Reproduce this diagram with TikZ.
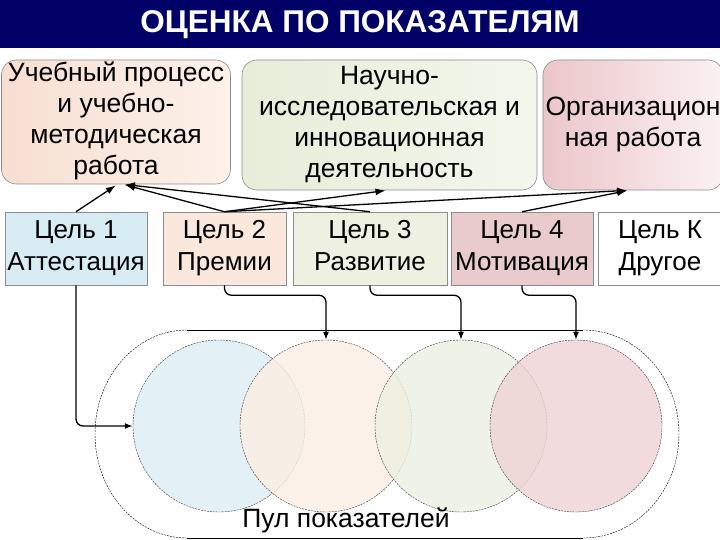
\documentclass[tikz,border=0pt]{standalone}
\usepackage{fontspec}
\setmainfont{Liberation Sans}
\usetikzlibrary{arrows.meta}
\definecolor{navy}{RGB}{0,0,102}
\definecolor{peachL}{HTML}{F7DFD1}
\definecolor{peachR}{HTML}{FCF1EA}
\definecolor{greenL}{HTML}{E8EDD9}
\definecolor{greenR}{HTML}{F3F6EC}
\definecolor{pinkL}{HTML}{EBC6CA}
\definecolor{pinkR}{HTML}{FBF1F2}
\definecolor{gblue}{HTML}{D8ECF3}
\definecolor{gpeach}{HTML}{FBE8DD}
\definecolor{ggreen}{HTML}{EEF1E2}
\definecolor{gpink}{HTML}{EACBCD}
\definecolor{cblue}{HTML}{DCEDF4}
\definecolor{cpeach}{HTML}{FCEEE3}
\definecolor{cgreen}{HTML}{ECF0E1}
\definecolor{cpink}{HTML}{EED2D5}
\definecolor{edgegray}{HTML}{8C8C8C}
\begin{document}
\begin{tikzpicture}[x=1pt,y=-1pt,
  topbox/.style={draw=edgegray, line width=0.6pt, rounded corners=15pt, inner sep=0pt,
    align=center, font=\fontsize{26.5}{31}\selectfont},
  goalbox/.style={draw=edgegray, line width=0.5pt, inner sep=0pt, minimum height=73pt,
    align=center, font=\fontsize{26}{32}\selectfont},
  circ/.style={circle, draw=black!80, line width=0.4pt, dash pattern=on 2pt off 1pt,
    minimum size=172pt, inner sep=0pt, fill opacity=0.8},
  arr/.style={-{Latex[length=10pt,width=7pt]}, line width=1.3pt, shorten >=2pt},
  elbow/.style={-{Latex[length=8pt,width=6pt]}, line width=1.3pt, rounded corners=7pt}
]
\useasboundingbox (0,0) rectangle (720,540);
\fill[white] (0,0) rectangle (720,540);
% title
\fill[navy] (0,0) rectangle (720,48);
\node[text=white, font=\bfseries\fontsize{31.5}{33}\selectfont] (title) at (360,25) {ОЦЕНКА ПО ПОКАЗАТЕЛЯМ};
% top boxes
\node[topbox, left color=peachL, right color=peachR, minimum width=229pt, minimum height=124pt] (A) at (116,122)
  {\strut Учебный процесс\\и учебно-\\методическая\\работа\strut};
\node[topbox, left color=greenL, right color=greenR, minimum width=295pt, minimum height=130pt] (B) at (389.5,125)
  {\strut Научно-\\исследовательская и\\инновационная\\деятельность\strut};
\node[topbox, left color=pinkL, right color=pinkR, minimum width=180pt, minimum height=130pt] (C) at (633,125)
  {\strut Организацион\\ная работа\strut};
% goal boxes
\node[goalbox, fill=gblue, minimum width=142pt] (g1) at (76,248.5) {\strut Цель 1\\Аттестация\strut};
\node[goalbox, fill=gpeach, minimum width=123pt] (g2) at (224.5,248.5) {\strut Цель 2\\Премии\strut};
\node[goalbox, fill=ggreen, minimum width=154pt] (g3) at (370,248.5) {\strut Цель 3\\Развитие\strut};
\node[goalbox, fill=gpink, minimum width=142pt] (g4) at (522,248.5) {\strut Цель 4\\Мотивация\strut};
\node[goalbox, fill=white, minimum width=124pt] (gK) at (660,248.5) {\strut Цель К\\Другое\strut};
% arrows up
\draw[arr] (g1.north) -- ([xshift=1.5pt]A.south);
\draw[arr] (g2.north) -- ([xshift=7pt]A.south);
\draw[arr] (g3.north) -- ([xshift=7pt]A.south);
\draw[arr] (g2.north) -- ([xshift=-2pt]B.south);
\draw[arr] (g2.north) -- ([xshift=-4pt]C.south);
\draw[arr] (g4.north) -- ([xshift=-4pt]C.south);
% pool outline
\draw[line width=0.8pt] (187,330) -- (583,330);
\draw[line width=0.8pt] (187,538) -- (583,538);
\draw[line width=0.4pt, dash pattern=on 2pt off 1pt] (187,330) arc[start angle=270, end angle=90, x radius=92, y radius=104];
\draw[line width=0.4pt, dash pattern=on 2pt off 1pt] (583,330) arc[start angle=-90, end angle=90, x radius=96, y radius=104];
% circles
\node[circ, fill=cblue] (c1) at (219,426) {};
\node[circ, fill=cpeach] (c2) at (326,426) {};
\node[circ, fill=cgreen] (c3) at (461,426) {};
\node[circ, fill=cpink] (c4) at (576,426) {};
\node[font=\fontsize{26.5}{30}\selectfont] (pool) at (346,520) {Пул показателей};
% elbow connectors
\draw[elbow] (g1.south) |- (c1.west);
\draw[elbow] (g2.south) -- ++(0,10) -| (c2.north);
\draw[elbow] (g3.south) -- ++(0,10) -| (c3.north);
\draw[elbow] (g4.south) -- ++(0,10) -| (c4.north);
\end{tikzpicture}
\end{document}
